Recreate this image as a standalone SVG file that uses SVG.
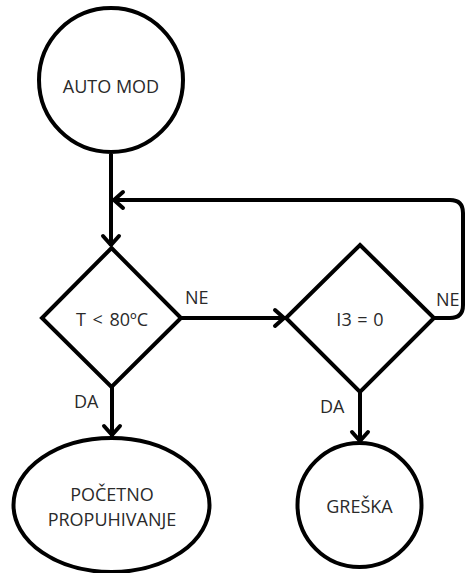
<svg xmlns="http://www.w3.org/2000/svg" width="465" height="573" viewBox="0 0 465 573">
<style>
.shape{fill:#ffffff;stroke:#000;stroke-width:4}
.conn{fill:none;stroke:#000;stroke-width:4;stroke-linejoin:round}
.head{fill:none;stroke:#000;stroke-width:4;stroke-linecap:round;stroke-linejoin:round}
text{font-family:"Open Sans","Liberation Sans",sans-serif;font-size:18px;fill:#2a2a2a;text-anchor:middle}
.lbl{text-anchor:start}
</style>
<rect width="465" height="573" fill="#ffffff"/>
<g id="connectors">
  <path class="conn" d="M111,154 V246"/>
  <path class="head" d="M103,236 L111,245 L119,236"/>
  <path class="conn" d="M434,318 H450 Q463,318 463,305 V213 Q463,200 450,200 H114"/>
  <path class="head" d="M123,192 L114,200 L123,208"/>
  <path class="conn" d="M181,318 H285"/>
  <path class="head" d="M275,310 L284,318 L275,326"/>
  <path class="conn" d="M112,387 V436"/>
  <path class="head" d="M104,426 L112,435 L120,426"/>
  <path class="conn" d="M360,392 V442"/>
  <path class="head" d="M352,432 L360,441 L368,432"/>
  <text class="lbl" x="185" y="304">NE</text>
  <text class="lbl" x="436" y="306">NE</text>
  <text class="lbl" x="74" y="408">DA</text>
  <text class="lbl" x="320" y="413">DA</text>
</g>
<g id="auto-mod">
  <circle class="shape" cx="111" cy="80" r="72"/>
  <text x="111" y="93">AUTO MOD</text>
</g>
<g id="t-check">
  <polygon class="shape" points="111.5,248 181,318 111.5,387 42,318"/>
  <text x="112" y="326" word-spacing="2">T &lt; 80ºC</text>
</g>
<g id="i3-check">
  <polygon class="shape" points="360,245 434,318 360,392 286,318"/>
  <text x="360" y="326" word-spacing="1">I3 = 0</text>
</g>
<g id="pocetno">
  <ellipse class="shape" cx="111.5" cy="505" rx="98" ry="67"/>
  <text x="112" y="501">POČETNO</text>
  <text x="112" y="526">PROPUHIVANJE</text>
</g>
<g id="greska">
  <circle class="shape" cx="359.5" cy="505" r="62"/>
  <text x="359.5" y="513">GREŠKA</text>
</g>
</svg>
